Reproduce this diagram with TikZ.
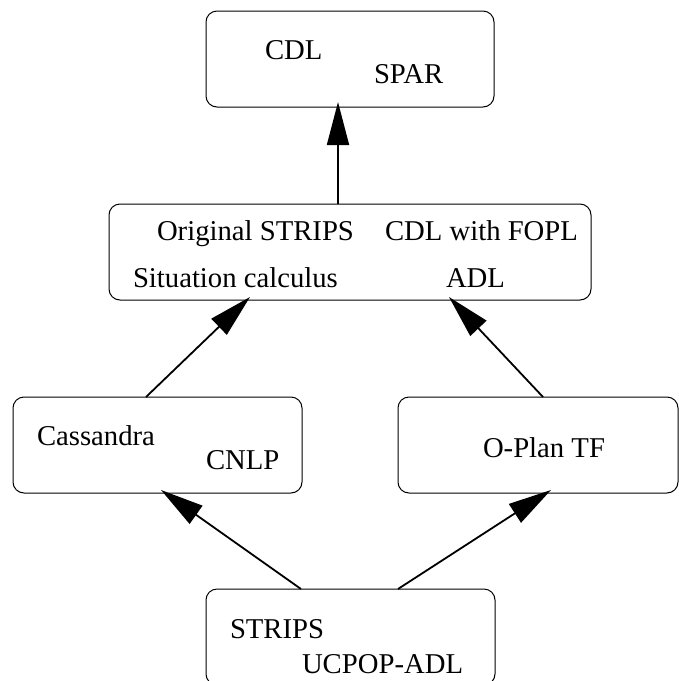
\documentclass[tikz,border=0pt]{standalone}
\usepackage{fontspec}
\setmainfont{Liberation Serif}
\usetikzlibrary{arrows.meta}
\begin{document}
\begin{tikzpicture}[x=1pt,y=-1pt,
  box/.style={draw, line width=1pt, rounded corners=11pt, inner sep=0pt, outer sep=0pt, minimum height=96pt},
  lbl/.style={inner sep=0pt, outer sep=0pt, anchor=base west, font=\fontsize{28.7}{34}\selectfont},
  arr/.style={line width=1.8pt, -{Triangle[length=43pt,width=22pt]}}]
\useasboundingbox (0,0) rectangle (679,681);
% boxes
\node[box, minimum width=288pt] (top) at (350,59) {};
\node[box, minimum width=482pt] (mid) at (350,252) {};
\node[box, minimum width=289pt] (cas) at (157.5,445) {};
\node[box, minimum width=280pt] (opl) at (538,445) {};
\node[box, minimum width=289pt] (bot) at (350.5,637) {};
% labels
\node[lbl] (tcdl) at (265,59) {CDL};
\node[lbl] (tspar) at (374,83) {SPAR};
\node[lbl] (tos) at (157,240) {Original STRIPS};
\node[lbl] (tcf) at (385,240) {CDL with FOPL};
\node[lbl] (tsc) at (133,287) {Situation calculus};
\node[lbl] (tadl) at (446,287) {ADL};
\node[lbl] (tcas) at (37,445) {Cassandra};
\node[lbl] (tcnlp) at (206,469) {CNLP};
\node[lbl] (topl) at (483,457) {O-Plan TF};
\node[lbl] (tstr) at (230,638) {STRIPS};
\node[lbl] (tucp) at (302,673) {UCPOP-ADL};
% connectors
\draw[arr] ([xshift=-12pt]mid.north) -- ([xshift=-12pt,yshift=5pt]top.south);
\draw[arr] ([xshift=-11.5pt]cas.north) -- ([xshift=-100pt,yshift=3pt]mid.south);
\draw[arr] ([xshift=5pt]opl.north) -- ([xshift=99pt,yshift=3pt]mid.south);
\draw[arr] ([xshift=-49.5pt]bot.north) -- ([xshift=3.5pt,yshift=3pt]cas.south);
\draw[arr] ([xshift=47.5pt]bot.north) -- ([xshift=13pt,yshift=3pt]opl.south);
\end{tikzpicture}
\end{document}
